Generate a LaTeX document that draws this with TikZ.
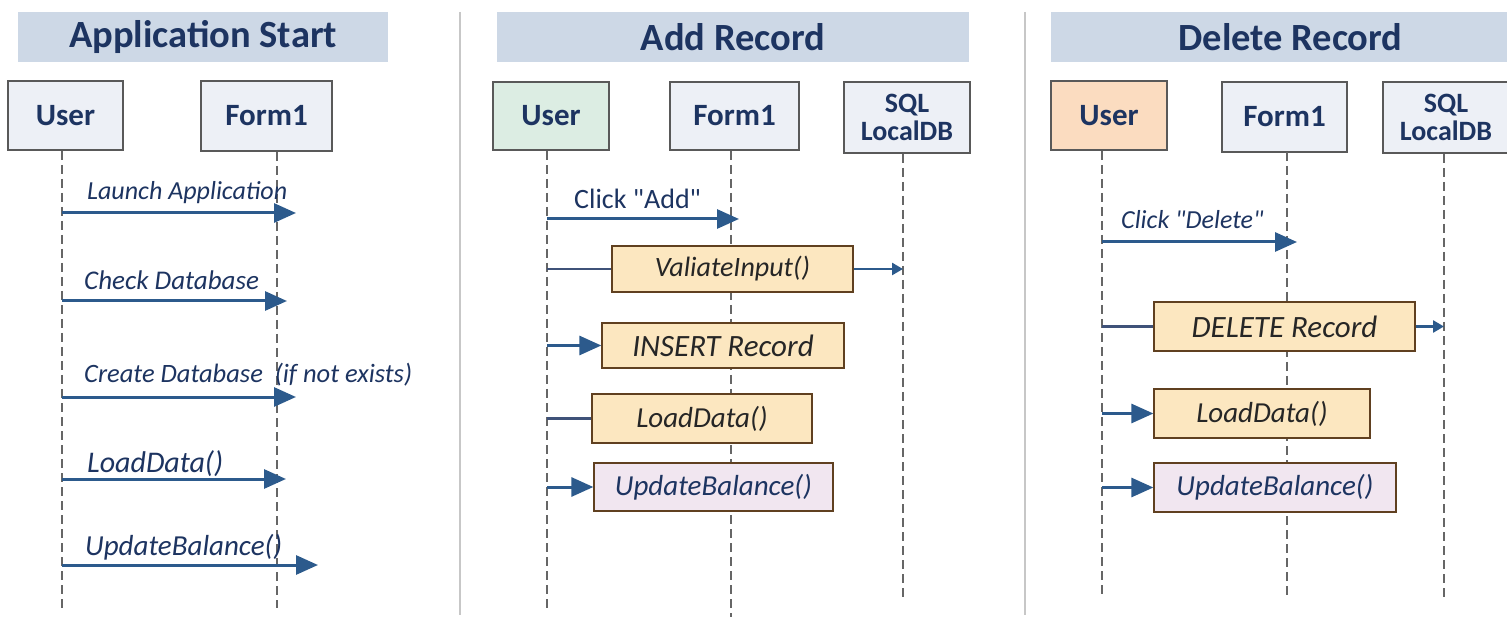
\documentclass[tikz,border=0pt]{standalone}
\usepackage{fontspec}
\setmainfont{Carlito}[Ligatures=TeXOff]
\usepackage{xcolor}
\usetikzlibrary{arrows.meta}

\definecolor{navy}{HTML}{1D3461}
\definecolor{msgblue}{HTML}{2C5A8C}
\definecolor{bandblue}{HTML}{CDD8E6}
\definecolor{actorblue}{HTML}{EDF0F6}
\definecolor{actorgreen}{HTML}{DCEDE3}
\definecolor{actorpeach}{HTML}{FBDCC0}
\definecolor{callyellow}{HTML}{FCE7C0}
\definecolor{callpurple}{HTML}{F1E6F0}

\begin{document}
\begin{tikzpicture}[x=1pt, y=-1pt,
	band/.style={fill=bandblue, inner sep=0pt, minimum height=50pt, text=navy, font=\fontsize{38.5}{40}\selectfont\bfseries},
	actor/.style={draw=black!65, line width=1.5pt, inner sep=0pt, text=navy, font=\fontsize{31}{31}\selectfont\bfseries, align=center},
	dbname/.style={font=\fontsize{28}{27.5}\selectfont\bfseries},
	call/.style={draw=black!50!brown, line width=1.3pt, fill=callyellow, inner sep=0pt, text=black!85, font=\fontsize{29}{30}\selectfont\itshape},
	life/.style={draw=black!60, line width=1.5pt, dash pattern=on 9pt off 5pt},
	lbl/.style={inner sep=0pt, anchor=base west, text=navy, font=\fontsize{27}{29}\selectfont\itshape},
	msg/.style={draw=msgblue, line width=3pt, -{Triangle[length=22pt,width=19pt]}},
	small/.style={draw=msgblue, line width=2.5pt, -{Triangle[length=11pt,width=12pt]}},
	plain/.style={draw=navy!85, line width=2.4pt}]
	\useasboundingbox (0,0) rectangle (1507,617);
	\fill[white] (0,0) rectangle (1507,617);
	\draw[black!22, line width=1.5pt] (460,12) -- (460,615);
	\draw[black!22, line width=1.5pt] (1025,12) -- (1025,615);

	% Application Start
	\node[band, minimum width=370pt] (band1) at (203,37) {Application Start};
	\node[actor, fill=actorblue, minimum width=115pt, minimum height=69pt] (u1) at (65.5,115.5) {User};
	\node[actor, fill=actorblue, minimum width=131pt, minimum height=70pt] (f1) at (266.5,116) {Form1};
	\coordinate (U1) at (62,151);
	\coordinate (F1) at (277,152);
	\draw[life] (U1) -- ++(0,457);
	\draw[life] (F1) -- ++(0,456);
	\coordinate (e11) at (296,213);
	\coordinate (e12) at (287,301);
	\coordinate (e13) at (296,397);
	\coordinate (e14) at (286,479);
	\coordinate (e15) at (318,565);
	\node[lbl, font=\fontsize{26}{28}\selectfont\itshape] (l11) at (87,200) {Launch Application};
	\node[lbl] (l12) at (84,290) {Check Database};
	\node[lbl, font=\fontsize{26.5}{28}\selectfont\itshape] (l13) at (84,383) {Create Database\ \ (if not exists)};
	\node[lbl, font=\fontsize{30}{30}\selectfont\itshape] (l14) at (87,472) {LoadData()};
	\node[lbl, font=\fontsize{29}{30}\selectfont\itshape] (l15) at (85,555) {UpdateBalance()};
	\draw[msg] (U1 |- e11) -- (e11);
	\draw[msg] (U1 |- e12) -- (e12);
	\draw[msg] (U1 |- e13) -- (e13);
	\draw[msg] (U1 |- e14) -- (e14);
	\draw[msg] (U1 |- e15) -- (e15);

	% Add Record
	\node[band, minimum width=472pt] (band2) at (733,37) {Add Record};
	\node[actor, fill=actorgreen, minimum width=116pt, minimum height=68pt] (u2) at (551,116) {User};
	\node[actor, fill=actorblue, minimum width=129pt, minimum height=68pt] (f2) at (734.5,116) {Form1};
	\node[actor, dbname, fill=actorblue, minimum width=126pt, minimum height=71pt] (s2) at (907,117.5) {SQL\\LocalDB};
	\coordinate (U2) at (547,151);
	\coordinate (F2) at (731,151);
	\coordinate (S2) at (903,154);
	\draw[life] (U2) -- ++(0,457);
	\draw[life] (F2) -- ++(0,466);
	\draw[life] (S2) -- ++(0,444);
	\node[call, font=\fontsize{28}{30}\selectfont\itshape, minimum width=241pt, minimum height=46pt] (val) at (732.5,269) {ValiateInput()};
	\node[call, font=\fontsize{31}{30}\selectfont\itshape, minimum width=242pt, minimum height=45pt] (ins) at (723,345.5) {INSERT Record};
	\node[call, minimum width=220pt, minimum height=49pt] (ld2) at (702,418.5) {LoadData()};
	\node[call, fill=callpurple, text=navy, minimum width=239pt, minimum height=48pt] (ub2) at (713.5,487) {UpdateBalance()};
	\coordinate (e21) at (739,219);
	\node[lbl, font=\fontsize{28}{30}\selectfont] (l21) at (574,209) {Click "Add"};
	\draw[msg] (U2 |- e21) -- (e21);
	\draw[plain] (U2 |- val.west) -- (val.west);
	\draw[small] (val.east) -- (S2 |- val.east);
	\draw[msg] (U2 |- ins.west) -- (ins.west);
	\draw[plain] (U2 |- ld2.west) -- (ld2.west);
	\draw[msg] (U2 |- ub2.west) -- (ub2.west);

	% Delete Record
	\node[band, minimum width=479pt] (band3) at (1290.5,37) {Delete Record};
	\node[actor, fill=actorpeach, minimum width=116pt, minimum height=69pt] (u3) at (1109,115.5) {User};
	\node[actor, fill=actorblue, minimum width=125pt, minimum height=70pt] (f3) at (1284.5,117) {Form1};
	\node[actor, dbname, fill=actorblue, minimum width=126pt, minimum height=71pt] (s3) at (1446,117.5) {SQL\\LocalDB};
	\coordinate (U3) at (1102,151);
	\coordinate (F3) at (1287,152);
	\coordinate (S3) at (1444,154);
	\draw[life] (U3) -- ++(0,447);
	\draw[life] (F3) -- ++(0,446);
	\draw[life] (S3) -- ++(0,446);
	\node[call, font=\fontsize{31}{30}\selectfont\itshape, minimum width=261pt, minimum height=49pt] (del) at (1284.5,326.5) {DELETE Record};
	\node[call, minimum width=216pt, minimum height=49pt] (ld3) at (1262,413.5) {LoadData()};
	\node[call, fill=callpurple, text=navy, minimum width=242pt, minimum height=49pt] (ub3) at (1275,487.5) {UpdateBalance()};
	\coordinate (e31) at (1297,242);
	\node[lbl, font=\fontsize{26}{28}\selectfont\itshape] (l31) at (1121,229) {Click "Delete"};
	\draw[msg] (U3 |- e31) -- (e31);
	\draw[plain] (U3 |- del.west) -- (del.west);
	\draw[small] (del.east) -- (S3 |- del.east);
	\draw[msg] (U3 |- ld3.west) -- (ld3.west);
	\draw[msg] (U3 |- ub3.west) -- (ub3.west);
\end{tikzpicture}
\end{document}
